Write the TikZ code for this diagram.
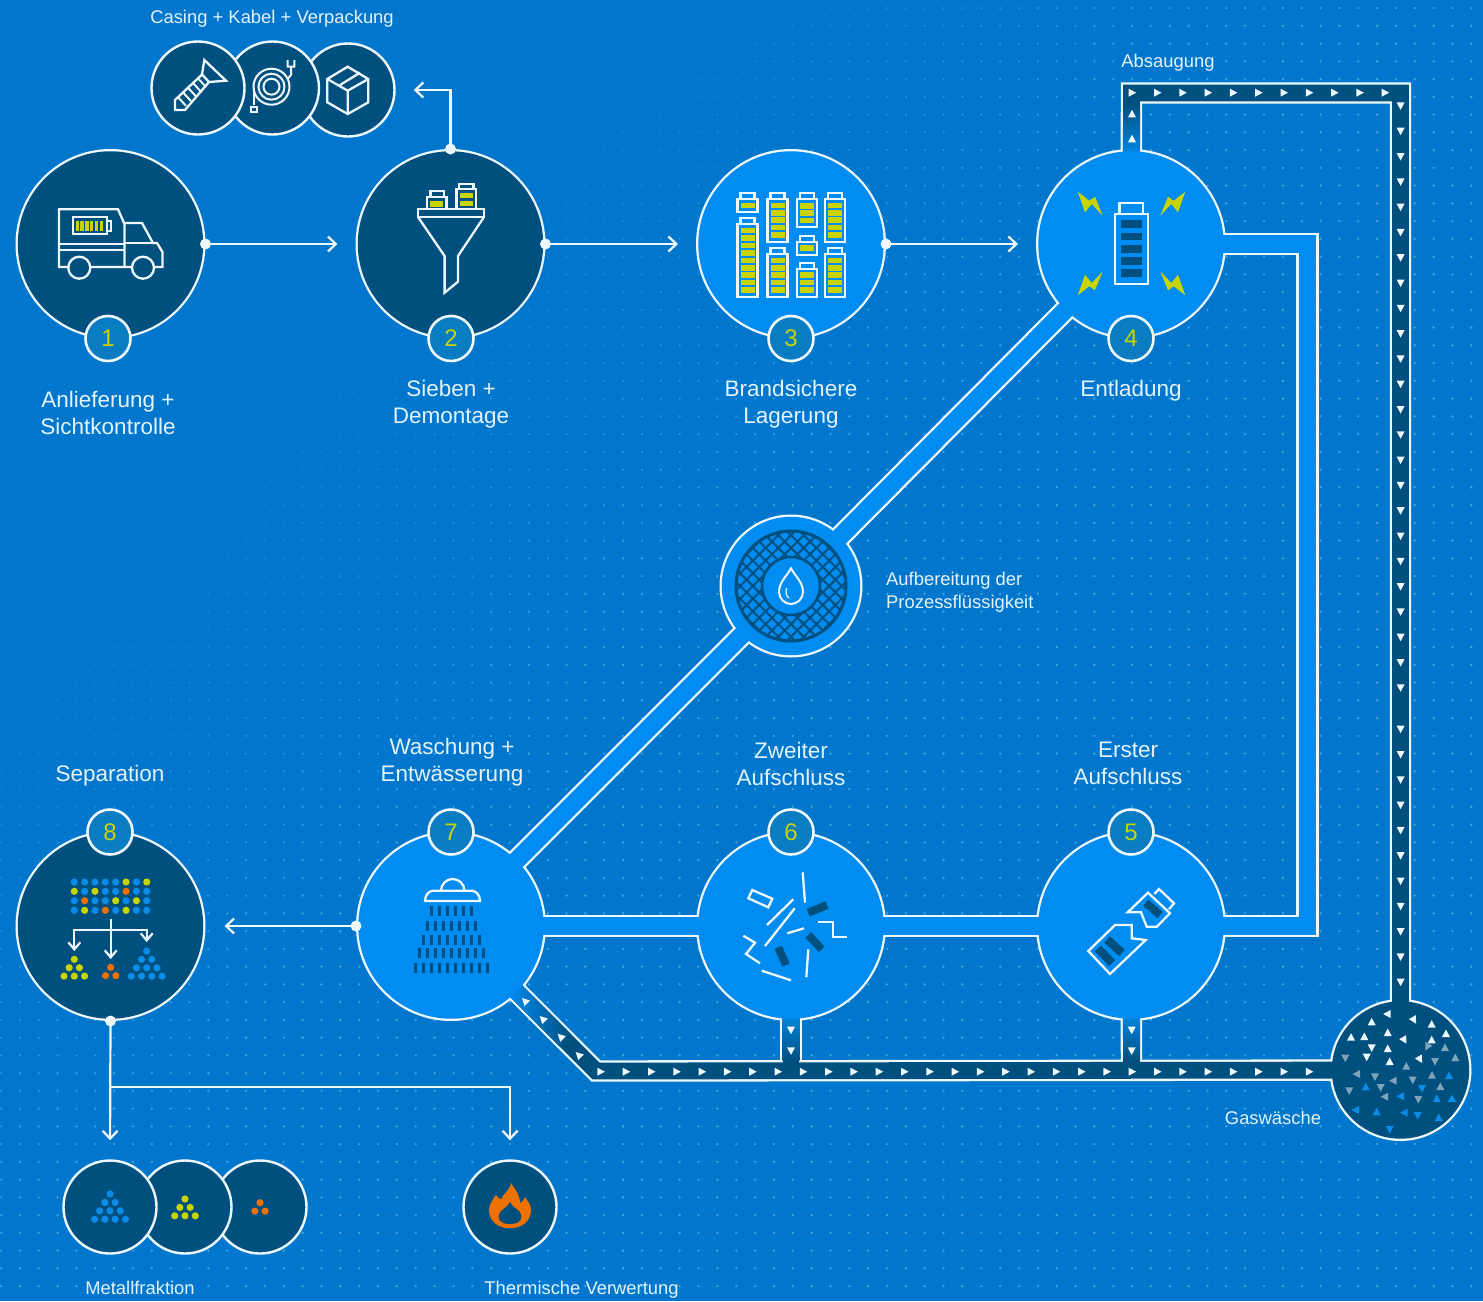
\documentclass[tikz,border=0pt]{standalone}
\usepackage{fontspec}
\setmainfont{Liberation Sans}
\usetikzlibrary{arrows.meta,calc}
\definecolor{bgc}{HTML}{0077CC}
\definecolor{lightb}{HTML}{008CF0}
\definecolor{darkb}{HTML}{00507F}
\definecolor{linew}{HTML}{EEF7FC}
\definecolor{txtc}{HTML}{E4F2FB}
\definecolor{yel}{HTML}{C8D400}
\definecolor{ora}{HTML}{EE7100}
\definecolor{dotblue}{HTML}{0A8CE8}
\definecolor{badgec}{HTML}{0A7CC2}
\definecolor{dotc}{HTML}{46A2DC}
\definecolor{greyt}{HTML}{7FA3B8}
\tikzset{
  x=1pt,y=-1pt,
  disc/.style={circle,inner sep=0pt,outer sep=0pt,minimum size=#1},
  rimdisc/.style={disc=#1,fill=linew},
  lightdisc/.style={disc=#1,fill=lightb},
  darkdisc/.style={disc=#1,fill=darkb},
  badge/.style={circle,inner sep=0pt,minimum size=45pt,fill=badgec,draw=linew,line width=2.6pt,text=yel,font=\fontsize{24}{24}\selectfont},
  sat/.style={circle,inner sep=0pt,minimum size=93pt,fill=darkb,draw=linew,line width=2.4pt},
  pt/.style={circle,inner sep=0pt,minimum size=11pt,fill=linew},
  flow/.style={draw=linew,line width=2.2pt,-{Straight Barb[length=8pt,width=15pt,line width=2.2pt]}},
  rimpipe/.style={draw=linew,line width=22.4pt,line join=miter},
  lightpipe/.style={draw=lightb,line width=17.8pt,line join=miter},
  rimduct/.style={draw=linew,line width=21.4pt,line join=miter},
  darkduct/.style={draw=darkb,line width=16.8pt,line join=miter},
  bigtxt/.style={text=txtc,align=center,font=\fontsize{22.5}{27}\selectfont},
  smalltxt/.style={text=txtc,font=\fontsize{18.4}{23}\selectfont},
  icon/.style={draw=linew,line width=2.3pt,line join=miter},
  thin icon/.style={draw=linew,line width=2pt}
}
\newcommand{\mytri}[4]{\fill[#4,shift={(#1,#2)},rotate=#3] (4.2,0)--(-3.3,4)--(-3.3,-4)--cycle;}
\newcommand{\mybatt}[5]{%
  \draw[icon] ({#1-7},#3) -- ({#1-7},#2) -- ({#1+7},#2) -- ({#1+7},#3);
  \draw[icon] ({#1-10},#3) rectangle ({#1+10},#4);
  \foreach \k in {1,...,#5}{\fill[yel] ({#1-7},{#4-9.4-(\k-1)*7.42}) rectangle ++(14,5.5);}
}
\newcommand{\mypile}[4]{%
  \pgfmathtruncatemacro{\lastrow}{#3-1}
  \foreach \r in {0,...,\lastrow}{\foreach \c in {0,...,\r}{
    \fill[#4] ({#1+(\c-\r/2)*10.3},{#2+\r*8.4}) circle (3.6);}}
}
\begin{document}
\begin{tikzpicture}
\useasboundingbox (0,0) rectangle (1483,1301);
\fill[bgc] (0,0) rectangle (1483,1301);
% dotted texture
\foreach \i in {0,...,78}{\foreach \j in {0,...,73}{
  \pgfmathsetmacro{\dx}{1.05+18.85*\i}
  \pgfmathsetmacro{\dy}{8.1+17.75*\j}
  \pgfmathtruncatemacro{\dp}{max(0,min(100,(\dx+\dy-600)/7))}
  \ifnum\dp>4 \fill[dotc!\dp!bgc] (\dx,\dy) circle (1.3); \fi
}}

% ---- rims of the connected circles
\node[rimdisc=190pt] (n1) at (110.5,244) {};
\node[rimdisc=190pt] (n2) at (450.5,244) {};
\node[rimdisc=190pt] (n3) at (791,244) {};
\node[rimdisc=190pt] (n4) at (1131,244) {};
\node[rimdisc=190pt] (n5) at (1131,926) {};
\node[rimdisc=190pt] (n6) at (791,926) {};
\node[rimdisc=190pt] (n7) at (451,926) {};
\node[rimdisc=190pt] (n8) at (110.5,926) {};
\node[rimdisc=143pt] (wat) at (791,586) {};
\node[rimdisc=142pt] (gas) at (1400.5,1070) {};
\coordinate (ductTL) at (1131.5,93);
\coordinate (ductTR) at (1400.5,93);
\coordinate (ductBL) at (596,1071);
\coordinate (ductS) at (791,1071);
\coordinate (ductT) at (1131.5,1071);
\coordinate (pipeR) at (1307.5,244);
\coordinate (pipeRb) at (1307.5,926);

\draw[rimpipe] (n4.center) -- (pipeR) -- (pipeRb) -- (n5.center);
\draw[rimpipe] (n5.center) -- (n6.center) -- (n7.center);
\draw[rimpipe] (n7.center) -- (wat.center) -- (n4.center);
\draw[rimduct] (n4.center) -- (ductTL) -- (ductTR) -- (gas.center);
\draw[rimduct] (n7.center) -- (ductBL) -- (gas.center);
\draw[rimduct] (n6.center) -- (ductS);
\draw[rimduct] (n5.center) -- (ductT);

\draw[darkduct] (n4.center) -- (ductTL) -- (ductTR) -- (gas.center);
\draw[darkduct] (n7.center) -- (ductBL) -- (gas.center);
\draw[darkduct] (n6.center) -- (ductS);
\draw[darkduct] (n5.center) -- (ductT);
% fades from the light circles into the dark ducts
\shade[top color=darkb,bottom color=lightb] (1123,104) rectangle (1140,160);
\shade[top color=lightb,bottom color=darkb] (782.5,1010) rectangle (799.5,1060);
\shade[top color=lightb,bottom color=darkb] (1123,1010) rectangle (1140,1060);
\shade[shift={(n7.center)},rotate=-45,left color=lightb,right color=darkb] (88,-8.4) rectangle (162,8.4);

\draw[lightpipe] (n4.center) -- (pipeR) -- (pipeRb) -- (n5.center);
\draw[lightpipe] (n5.center) -- (n6.center) -- (n7.center);
\draw[lightpipe] (n7.center) -- (wat.center) -- (n4.center);

% ---- fills
\node[darkdisc=185.4pt] at (n1) {};
\node[darkdisc=185.4pt] at (n2) {};
\node[lightdisc=185.4pt] at (n3) {};
\node[lightdisc=185.4pt] at (n4) {};
\node[lightdisc=185.4pt] at (n5) {};
\node[lightdisc=185.4pt] at (n6) {};
\node[lightdisc=185.4pt] at (n7) {};
\node[darkdisc=185.4pt] at (n8) {};
\node[lightdisc=138.4pt] at (wat) {};
\node[darkdisc=137.4pt] at (gas) {};

% ---- satellites
\node[sat] (s3) at (348,90) {};
\node[sat] (s2) at (272.5,88) {};
\node[sat] (s1) at (198,88) {};
\node[sat] (f3) at (260,1207) {};
\node[sat] (f2) at (185,1207) {};
\node[sat] (f1) at (110,1207) {};
\node[sat] (fire) at (510,1207) {};

% ---- connector dots and arrows
\node[pt] (d1) at (n1.east) {};
\node[pt] (d2) at (n2.east) {};
\node[pt] (d2t) at (n2.north) {};
\node[pt] (d3) at (n3.east) {};
\node[pt] (d7) at (n7.west) {};
\node[pt] (d8) at (n8.south) {};
\coordinate (branch) at (110.5,1087);
\draw[flow,shorten >=18pt] (d1.center) -- (n2.west);
\draw[flow,shorten >=18pt] (d2.center) -- (n3.west);
\draw[flow,shorten >=18pt] (d3.center) -- (n4.west);
\draw[flow,shorten >=18pt] (d2t.center) |- (s3.east);
\draw[flow,shorten >=19pt] (d7.center) -- (n8.east);
\draw[flow,shorten >=19pt] (d8.center) -- (f1.north);
\draw[flow,shorten >=19pt] (branch) -| (fire.north);

% ---- duct arrowheads
\foreach \k in {0,...,10}{\mytri{1132+25.3*\k}{92.7}{0}{linew}}
\foreach \k in {0,...,23}{\mytri{1400.6}{105.7+25.3*\k}{-90}{linew}}
\foreach \k in {0,...,10}{\mytri{1400.6}{729+25.3*\k}{-90}{linew}}
\foreach \k in {0,...,28}{\mytri{600.7+25.3*\k}{1071.7}{0}{linew}}
\mytri{1132}{139}{90}{linew}
\mytri{1132}{114}{90}{linew}
\mytri{791}{1030}{-90}{linew}
\mytri{791}{1050.7}{-90}{linew}
\mytri{1131.7}{1030}{-90}{linew}
\mytri{1131.7}{1050.7}{-90}{linew}
\mytri{525}{1001}{135}{linew}
\mytri{542.7}{1019}{135}{linew}
\mytri{560.7}{1036.7}{135}{linew}
\mytri{578.7}{1055}{135}{linew}

% ---- gas scrubber particles
\foreach \a/\b/\c in {1387.3/1014/180,1371.7/1022/90,1414/1020/-60,1431.7/1024.3/90,1387.7/1032.7/90,1446/1033.7/90,1351/1037.3/90,1364.3/1036.7/90,1404.3/1040/-60,1431.7/1040/90,1371.7/1047.7/-90,1387.7/1048.7/90,1366.7/1057/-90,1389.7/1061.7/90,1420/1059.3/-60}{\mytri{\a}{\b}{\c}{linew}}
\foreach \a/\b/\c in {1427.3/1046.7/-120,1445/1047.7/90,1345.3/1058/-90,1435/1061.3/-90,1455.3/1057.7/90,1406.3/1066.3/90,1356.7/1074/180,1375/1076.7/-90,1393.3/1080.7/180,1412.7/1080/-90,1432/1075.3/90,1380.7/1087.3/-90,1349.3/1090.7/-90,1440.3/1086.7/90,1384.7/1096.7/180,1418.3/1099.3/-90}{\mytri{\a}{\b}{\c}{greyt}}
\foreach \a/\b/\c in {1449/1075.7/90,1365.7/1087/90,1422/1088.3/-90,1400.7/1096.3/180,1436.7/1098.7/90,1452.7/1100/-30,1355.7/1110/180,1376.7/1112/90,1404.3/1112.7/180,1417.7/1115.3/-90,1438.7/1117.7/90,1389.7/1129.3/-90}{\mytri{\a}{\b}{\c}{dotblue}}

% ---- icon 1: truck
\draw[icon] (125,267) -- (59,267) -- (59,209.3) -- (118,209.3) -- (124.5,224) -- (124.5,267);
\draw[icon] (59,244.3) -- (124.5,244.3) (59,250) -- (124.5,250);
\draw[icon] (124.5,223) -- (142,223) -- (153,243) -- (157,243) -- (162.5,252) -- (162.5,267) -- (124.5,267);
\draw[icon] (124.5,243) -- (153,243);
\draw[icon,fill=darkb] (79.3,267.7) circle (11);
\draw[icon,fill=darkb] (143,267.7) circle (11);
\draw[icon] (73,217.3) rectangle (107,234.3);
\draw[icon] (107,221) rectangle (111,231);
\foreach \k in {0,...,5}{\fill[yel] ({75.5+\k*4.8},221) rectangle ++(3.4,9.5);}

% ---- icon 2: funnel
\draw[icon] (418,209) rectangle (484,217);
\draw[icon] (418,217) -- (444.6,256) -- (444.6,292.7) -- (458,281.7) -- (458,256) -- (484,217);
\draw[icon] (426.8,208.7) rectangle (446.4,197.3);
\draw[icon] (430.4,197.3) rectangle (444,191.3);
\fill[yel] (430,201) rectangle (443,206.5);
\draw[icon] (456.4,208.7) rectangle (476,189.3);
\draw[icon] (459,189.3) rectangle (473.6,183.7);
\fill[yel] (459.5,192.7) rectangle (473,197.7);
\fill[yel] (459.5,201) rectangle (473,206);

% ---- icon 3: batteries
\mybatt{747.5}{192.7}{199.3}{212}{1}
\mybatt{747.5}{218.3}{224.3}{296.7}{9}
\mybatt{777.5}{192.7}{198.7}{241.7}{5}
\mybatt{777.5}{248.3}{254}{296.7}{5}
\mybatt{807}{192.7}{198.7}{227.3}{3}
\mybatt{807}{235.7}{241.7}{254.7}{1}
\mybatt{807}{262.7}{268.7}{296.7}{3}
\mybatt{835}{192.7}{198.7}{241.7}{5}
\mybatt{835}{248.3}{254}{296.7}{5}

% ---- icon 4: discharging battery
\draw[icon] (1119.6,213.7) -- (1119.6,203.3) -- (1143,203.3) -- (1143,213.7);
\draw[icon] (1114.8,213.7) rectangle (1148.2,283.7);
\foreach \t/\b in {220.3/228.3,232.7/240.3,245/252.7,257/265,269.3/277.3}{\fill[darkb] (1121,\t) rectangle (1141.5,\b);}
\foreach \sx/\sy in {1/1,-1/1,1/-1,-1/-1}{
  \fill[yel,shift={(1131.5,243.5)},xscale=\sx,yscale=\sy] (-53.8,-51.8) -- (-42.2,-42.8) -- (-36.5,-46.8) -- (-28.8,-27.8) -- (-39.8,-39.5) -- (-46.5,-31.2) -- cycle;
}

% ---- icon 5: broken bottle
\draw[icon] (1088.3,951) -- (1115,925) -- (1131.7,925) -- (1131.7,938.3) -- (1145.7,940) -- (1110,974) -- cycle;
\draw[darkb,line width=8.5pt] (1098,948.5) -- (1112,963);
\draw[darkb,line width=8.5pt] (1107,939.5) -- (1122,953);
\draw[icon] (1127.7,912.3) -- (1148,892.7) -- (1170,913.3) -- (1156.7,926.7) -- (1146.7,926.7) -- (1141,912.3) -- cycle;
\draw[icon] (1154.3,894) -- (1159,889) -- (1174,903.3) -- (1169,909.3);
\draw[darkb,line width=8pt] (1145.7,902.7) -- (1160,915);

% ---- icon 6: shredded pieces
\draw[icon] (752.3,890) -- (772.3,898.7) -- (768.3,907.3) -- (748.3,898.3) -- cycle;
\draw[icon] (793.3,899.3) -- (767,925);
\draw[icon] (794.7,908.3) -- (765,946);
\draw[icon] (802.7,872.3) -- (805,902.7);
\draw[icon] (817.7,922.3) -- (833.3,922.3) -- (833.3,936.7) -- (846.7,936.7);
\draw[icon] (787.3,933.3) -- (804,928.3);
\draw[icon] (808.3,949.3) -- (806.3,977.3);
\draw[icon] (761.7,970.7) -- (791,980.3);
\draw[icon] (743.3,935.7) -- (755,942.7) -- (746,954) -- (760,963.3);
\draw[darkb,line width=8pt] (808.3,912.7) -- (827,905);
\draw[darkb,line width=8pt] (808.3,935) -- (821.7,949.3);
\draw[darkb,line width=8pt] (778.3,947.3) -- (786,965);

% ---- icon 7: shower
\draw[icon] (441,890.7) arc[start angle=180,end angle=0,x radius=11.7,y radius=-11.7];
\draw[icon] (425,901) .. controls (425,895) and (429,890.7) .. (433.3,890.7) -- (471.7,890.7) .. controls (476,890.7) and (480,895) .. (480,901) -- cycle;
\foreach \xa/\ya/\n in {431.7/906/5,427.7/920.7/6,423.7/934.7/7,419.7/948.3/8,415.7/962.7/9}{
  \foreach \k in {0,...,\n}{\fill[darkb] ({\xa+8*\k-1.5},\ya) rectangle ++(3,10);}
}

% ---- icon 8: separation
\foreach \yy/\cols in {882/{dotblue,dotblue,dotblue,dotblue,dotblue,yel,dotblue,yel},891.3/{yel,dotblue,yel,dotblue,dotblue,ora,dotblue,dotblue},900.7/{dotblue,ora,dotblue,dotblue,yel,dotblue,yel,dotblue},910.3/{dotblue,yel,dotblue,ora,dotblue,yel,dotblue,dotblue}}{
  \foreach \cc [count=\ci from 0] in \cols {\fill[\cc] ({74.3+10.35*\ci},\yy) circle (3.6);}
}
\coordinate (sep) at (110.7,930);
\draw[flow,-{Straight Barb[length=7pt,width=12pt,line width=2.2pt]}] (110.7,919.3) -- (110.7,959);
\draw[flow,-{Straight Barb[length=7pt,width=12pt,line width=2.2pt]}] (sep) -- (74.3,930) -- (74.3,951);
\draw[flow,-{Straight Barb[length=7pt,width=12pt,line width=2.2pt]}] (sep) -- (146.7,930) -- (146.7,942);
\mypile{74.3}{959.3}{3}{yel}
\mypile{110.7}{967.3}{2}{ora}
\mypile{146.7}{951}{4}{dotblue}

% ---- water treatment
\begin{scope}
\clip (wat) circle (56);
\foreach \k in {-10,...,10}{
  \draw[darkb,line width=2pt] ($(wat)+({\k*12.7-70},-70)$) -- ++(140,140);
  \draw[darkb,line width=2pt] ($(wat)+({\k*12.7+70},-70)$) -- ++(-140,140);
}
\end{scope}
\fill[lightb] (wat) circle (29);
\draw[darkb,line width=3pt] (wat) circle (55);
\draw[darkb,line width=2.5pt] (wat) circle (29);
\draw[thin icon] (791,568.3) .. controls (787,576) and (779,582) .. (779,592) .. controls (779,599) and (785,604) .. (791,604) .. controls (797,604) and (803,599) .. (803,592) .. controls (803,582) and (795,576) .. (791,568.3) -- cycle;
\draw[draw=linew,line width=1.2pt] (786.5,588) .. controls (785.5,592) and (786,596) .. (789,598);

% ---- satellite icons
\draw[icon] (204.3,60) -- (226,80.7) -- (209,82) -- (202,74.5) -- cycle;
\draw[icon] (202,74.5) -- (175,100) -- (175,110) -- (185,110) -- (209,82);
\foreach \k in {0,...,4}{\draw[thin icon] ({197.5-5*\k},{77.8+4.7*\k}) -- ({206-5*\k},{87+4.7*\k});}
\draw[thin icon] (271.5,86.7) circle (18) (271.5,86.7) circle (13) (271.5,86.7) circle (8);
\draw[thin icon] (287.7,60) -- (287.7,66.7) -- (294.3,66.7) -- (294.3,60) (291,66.7) -- (291,75) -- (287.5,79);
\draw[thin icon] (253.5,88) -- (253.5,105) (250.5,112) rectangle (256.5,106.5);
\draw[icon] (347.7,66.7) -- (368.3,79) -- (368.3,102.3) -- (347.7,114) -- (327.3,102.3) -- (327.3,79) -- cycle;
\draw[icon] (327.3,79) -- (347.7,90.7) -- (368.3,79) (347.7,90.7) -- (347.7,114) (340,85) -- (360,72.7);

\mypile{110}{1194}{4}{dotblue}
\mypile{185}{1199}{3}{yel}
\mypile{260}{1202.7}{2}{ora}

\fill[ora] (510.7,1182.7) .. controls (511,1190) and (503,1193) .. (501,1199.5) .. controls (499,1198) and (497,1197) .. (495.7,1195) .. controls (492,1201) and (489,1205) .. (489,1210) .. controls (489,1221) and (498,1228.3) .. (510,1228.3) .. controls (522,1228.3) and (531,1221) .. (531,1210) .. controls (531,1205) and (528,1201) .. (525,1197.3) .. controls (524,1200) and (522,1202) .. (520,1203.3) .. controls (520,1195) and (515,1189) .. (510.7,1182.7) -- cycle;
\fill[darkb] (510,1202) .. controls (509,1207) and (498.5,1210) .. (498.5,1216) .. controls (498.5,1222) and (503.5,1224) .. (510,1224) .. controls (516.5,1224) and (521.5,1222) .. (521.5,1216) .. controls (521.5,1210) and (511,1207) .. (510,1202) -- cycle;

% ---- numbered badges
\node[badge] (b1) at (108,338.5) {1};
\node[badge] (b2) at (451,338.5) {2};
\node[badge] (b3) at (791,338.5) {3};
\node[badge] (b4) at (1131,338.5) {4};
\node[badge] (b5) at (1131,832) {5};
\node[badge] (b6) at (791,832) {6};
\node[badge] (b7) at (451,832) {7};
\node[badge] (b8) at (110,832) {8};

% ---- labels
\node[bigtxt] (t1) at (108,412.5) {Anlieferung +\\Sichtkontrolle};
\node[bigtxt] (t2) at (451,404) {Sieben +\\Demontage};
\node[bigtxt] (t3) at (791,404) {Brandsichere\\Lagerung};
\node[bigtxt] (t4) at (1131,391) {Entladung};
\node[bigtxt] (t5) at (1128,763.5) {Erster\\Aufschluss};
\node[bigtxt] (t6) at (791,763.5) {Zweiter\\Aufschluss};
\node[bigtxt] (t7) at (452,762.5) {Waschung +\\Entwässerung};
\node[bigtxt] (t8) at (110,776) {Separation};
\node[smalltxt] (t9) at (272,19) {Casing + Kabel + Verpackung};
\node[smalltxt] (t10) at (1168,63) {Absaugung};
\node[smalltxt,anchor=west,align=left,inner sep=0pt] (t11) at (886,592.5) {Aufbereitung der\\Prozessflüssigkeit};
\node[smalltxt] (t12) at (1273,1118) {Gaswäsche};
\node[smalltxt] (t13) at (140,1288) {Metallfraktion};
\node[smalltxt] (t14) at (581.5,1290) {Thermische Verwertung};
\end{tikzpicture}
\end{document}
